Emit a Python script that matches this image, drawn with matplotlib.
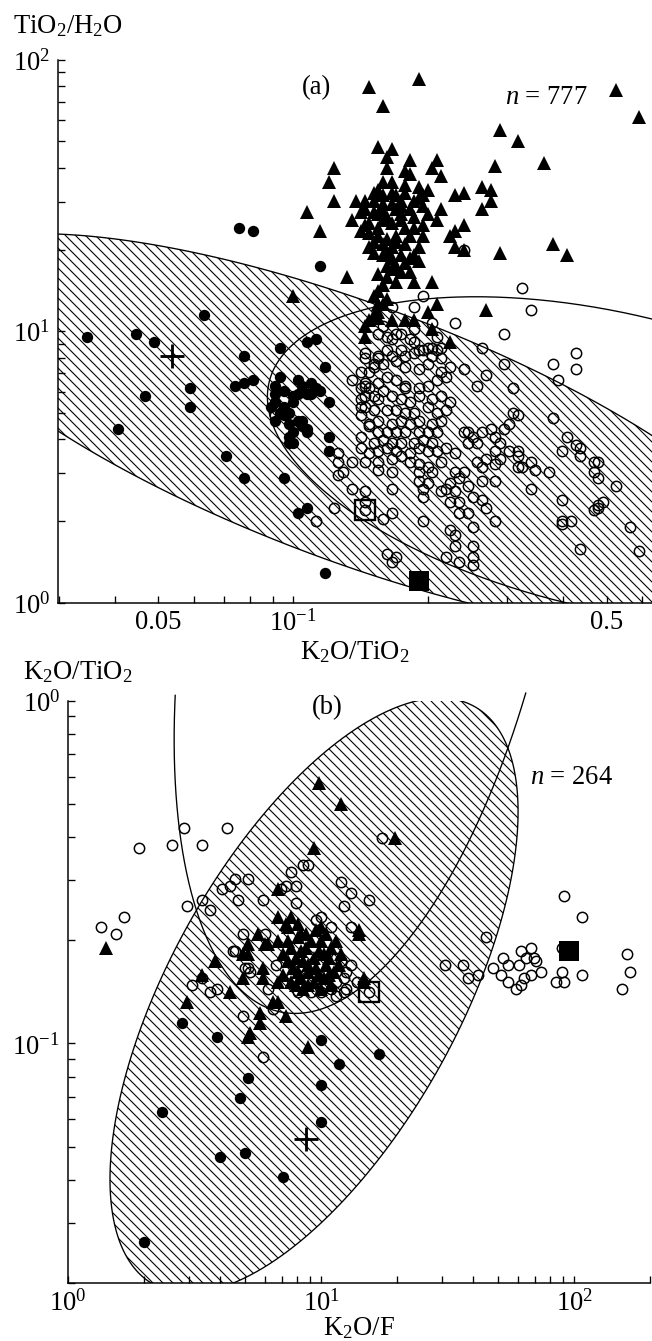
#!/usr/bin/env python3
"""Two log-log panels: TiO2/H2O vs K2O/TiO2 (a) and K2O/TiO2 vs K2O/F (b)."""
import numpy as np
import matplotlib
matplotlib.use("Agg")
import matplotlib.pyplot as plt
from matplotlib import ticker

# every value below is log10 of the ratio

# panel (a): (log K2O/TiO2, log TiO2/H2O)
A_TRI = [
    (-0.83, 1.90), (-0.72, 1.93), (-0.80, 1.83), (-0.28, 1.89), (-0.23, 1.79), (-0.54, 1.74),
    (-0.50, 1.70), (-0.44, 1.62), (-0.55, 1.61), (-0.81, 1.68), (-0.78, 1.67), (-0.91, 1.60),
    (-0.92, 1.55), (-0.74, 1.63), (-0.68, 1.63), (-0.67, 1.57), (-0.97, 1.44), (-0.91, 1.48),
    (-0.94, 1.37), (-0.88, 1.20), (-0.58, 1.53), (-0.56, 1.52), (-0.56, 1.48), (-0.58, 1.45),
    (-0.64, 1.50), (-0.62, 1.51), (-0.62, 1.39), (-0.64, 1.37), (-0.64, 1.31), (-0.54, 1.29),
    (-0.42, 1.32), (-0.39, 1.28), (-0.57, 1.08), (-0.69, 1.18), (-0.73, 1.18), (-0.68, 1.10),
    (-0.70, 1.07), (-0.79, 1.64), (-0.79, 1.60), (-0.75, 1.59), (-0.74, 1.58), (-0.80, 1.55),
    (-0.78, 1.55), (-0.75, 1.54), (-0.69, 1.60), (-0.70, 1.52), (-0.67, 1.45), (-0.70, 1.43),
    (-0.68, 1.41), (-0.71, 1.39), (-0.73, 1.38), (-0.71, 1.35), (-0.72, 1.31), (-0.73, 1.28),
    (-0.75, 1.32), (-0.75, 1.38), (-0.74, 1.22), (-0.76, 1.22), (-0.77, 1.24), (-0.79, 1.24),
    (-0.81, 1.21), (-0.80, 1.17), (-0.81, 1.15), (-0.82, 1.13), (-0.78, 1.31), (-0.79, 1.34),
    (-0.81, 1.35), (-0.83, 1.36), (-0.83, 1.31), (-0.82, 1.29), (-0.80, 1.28), (-0.78, 1.27),
    (-0.83, 1.40), (-0.84, 1.45), (-0.84, 1.48), (-0.82, 1.48), (-0.80, 1.47), (-0.78, 1.47),
    (-0.76, 1.48), (-0.75, 1.51), (-0.72, 1.49), (-0.71, 1.46), (-0.74, 1.45), (-0.77, 1.45),
    (-0.79, 1.42), (-0.81, 1.43), (-0.81, 1.38), (-0.78, 1.40), (-0.78, 1.51), (-0.81, 1.52),
    (-0.82, 1.51), (-0.72, 1.53), (-0.71, 1.50), (-0.81, 1.10), (-0.79, 1.12), (-0.86, 1.48),
    (-0.85, 1.44), (-0.87, 1.41), (-0.85, 1.37), (-0.78, 1.23), (-1.00, 1.13), (-0.80, 1.10),
    (-0.81, 1.07), (-0.83, 1.04), (-0.84, 1.02), (-0.84, 0.98), (-0.78, 1.04), (-0.75, 1.04),
    (-0.73, 1.04), (-0.69, 1.01), (-0.65, 0.96), (-0.81, 1.05), (-0.82, 1.06), (-0.65, 1.35),
    (-0.62, 1.30), (-0.82, 1.44), (-0.80, 1.41), (-0.76, 1.41), (-0.74, 1.35), (-0.77, 1.35),
    (-0.79, 1.29), (-0.76, 1.28), (-0.74, 1.27), (-0.77, 1.33), (-0.80, 1.32), (-0.82, 1.33),
    (-0.84, 1.39), (-0.80, 1.44), (-0.76, 1.43), (-0.73, 1.42), (-0.76, 1.46), (-0.73, 1.48),
    (-0.77, 1.50), (-0.80, 1.50), (-0.79, 1.20), (-0.77, 1.18), (-0.75, 1.25), (-0.72, 1.26),
]
A_RING = [
    (-0.47, 1.08), (-0.64, 1.03), (-0.53, 0.99), (-0.37, 0.92), (-0.37, 0.86), (-0.42, 0.88),
    (-0.41, 0.82), (-0.58, 0.94), (-0.53, 0.88), (-0.62, 0.86), (-0.57, 0.84), (-0.59, 0.80),
    (-0.51, 0.79), (-0.87, 0.82), (-0.84, 0.92), (-0.81, 0.90), (-0.78, 0.97), (-0.77, 0.99),
    (-0.74, 0.97), (-0.73, 1.01), (-0.68, 0.98), (-0.67, 0.94), (-0.69, 0.91), (-0.69, 0.94),
    (-0.71, 0.93), (-0.73, 0.92), (-0.75, 0.91), (-0.76, 0.93), (-0.78, 0.91), (-0.79, 0.93),
    (-0.81, 0.91), (-0.82, 0.88), (-0.83, 0.85), (-0.84, 0.81), (-0.85, 0.79), (-0.85, 0.75),
    (-0.84, 0.72), (-0.85, 0.69), (-0.83, 0.65), (-0.85, 0.61), (-0.85, 0.57), (-0.83, 0.55),
    (-0.81, 0.56), (-0.79, 0.57), (-0.77, 0.56), (-0.74, 0.55), (-0.72, 0.57), (-0.70, 0.56),
    (-0.68, 0.56), (-0.66, 0.57), (-0.64, 0.55), (-0.62, 0.63), (-0.60, 0.61), (-0.58, 0.63),
    (-0.56, 0.64), (-0.55, 0.61), (-0.53, 0.64), (-0.52, 0.66), (-0.51, 0.70), (-0.50, 0.69),
    (-0.54, 0.59), (-0.55, 0.56), (-0.52, 0.56), (-0.50, 0.56), (-0.54, 0.53), (-0.55, 0.51),
    (-0.50, 0.50), (-0.49, 0.50), (-0.59, 0.52), (-0.59, 0.59), (-0.61, 0.59), (-0.67, 0.52),
    (-0.64, 0.48), (-0.63, 0.46), (-0.65, 0.44), (-0.66, 0.42), (-0.67, 0.41), (-0.64, 0.41),
    (-0.63, 0.37), (-0.61, 0.43), (-0.58, 0.45), (-0.60, 0.39), (-0.69, 0.48), (-0.70, 0.50),
    (-0.72, 0.51), (-0.72, 0.48), (-0.72, 0.45), (-0.70, 0.44), (-0.71, 0.42), (-0.71, 0.39),
    (-0.74, 0.52), (-0.76, 0.54), (-0.78, 0.53), (-0.81, 0.52), (-0.84, 0.52), (-0.87, 0.52),
    (-0.90, 0.55), (-0.90, 0.52), (-0.89, 0.48), (-0.90, 0.47), (-0.87, 0.42), (-0.84, 0.41),
    (-0.78, 0.42), (-0.78, 0.48), (-0.81, 0.49), (-0.84, 0.37), (-0.80, 0.31), (-0.78, 0.33),
    (-0.79, 0.18), (-0.77, 0.17), (-0.78, 0.15), (-0.71, 0.30), (-0.65, 0.27), (-0.63, 0.33),
    (-0.61, 0.33), (-0.60, 0.28), (-0.64, 0.25), (-0.60, 0.21), (-0.64, 0.21), (-0.63, 0.15),
    (-0.60, 0.17), (-0.66, 0.17), (-0.60, 0.14), (-0.65, 0.37), (-0.62, 0.48), (-0.58, 0.50),
    (-0.57, 0.53), (-0.55, 0.45), (-0.58, 0.38), (-0.57, 0.35), (-0.55, 0.30), (-0.47, 0.42),
    (-0.50, 0.54), (-0.47, 0.52), (-0.46, 0.49), (-0.43, 0.48), (-0.40, 0.38), (-0.36, 0.57),
    (-0.36, 0.54), (-0.39, 0.61), (-0.40, 0.56), (-0.42, 0.68), (-0.37, 0.58), (-0.33, 0.52),
    (-0.32, 0.52), (-0.33, 0.48), (-0.32, 0.46), (-0.28, 0.43), (-0.32, 0.36), (-0.32, 0.35),
    (-0.33, 0.34), (-0.31, 0.37), (-0.40, 0.30), (-0.40, 0.29), (-0.38, 0.30), (-0.25, 0.28),
    (-0.23, 0.19), (-0.36, 0.20), (-0.95, 0.30), (-0.91, 0.35), (-1.04, 0.69), (-0.49, 1.16),
    (-0.73, 1.09), (-0.71, 1.13), (-0.69, 1.03), (-0.78, 1.09), (-0.80, 1.02), (-0.62, 1.30),
    (-0.84, 0.90), (-0.82, 0.87), (-0.80, 0.88), (-0.77, 0.89), (-0.75, 0.87), (-0.72, 0.86),
    (-0.70, 0.88), (-0.67, 0.90), (-0.65, 0.87), (-0.66, 0.83), (-0.68, 0.82), (-0.70, 0.80),
    (-0.72, 0.79), (-0.75, 0.80), (-0.77, 0.82), (-0.79, 0.83), (-0.81, 0.81), (-0.83, 0.79),
    (-0.82, 0.76), (-0.81, 0.75), (-0.78, 0.76), (-0.76, 0.75), (-0.74, 0.74), (-0.72, 0.76),
    (-0.69, 0.75), (-0.67, 0.76), (-0.65, 0.74), (-0.66, 0.71), (-0.68, 0.70), (-0.70, 0.72),
    (-0.73, 0.70), (-0.75, 0.70), (-0.77, 0.71), (-0.79, 0.71), (-0.82, 0.71), (-0.83, 0.66),
    (-0.81, 0.67), (-0.78, 0.66), (-0.76, 0.67), (-0.74, 0.66), (-0.72, 0.67), (-0.69, 0.66),
    (-0.67, 0.67), (-0.81, 0.63), (-0.79, 0.63), (-0.77, 0.63), (-0.75, 0.63), (-0.72, 0.63),
    (-0.70, 0.63), (-0.68, 0.63), (-0.82, 0.59), (-0.80, 0.60), (-0.78, 0.59), (-0.76, 0.59),
    (-0.73, 0.59), (-0.71, 0.60), (-0.69, 0.59), (-0.61, 0.63), (-0.85, 0.85), (-0.84, 0.80),
    (-0.84, 0.76), (-0.85, 0.72), (-0.80, 0.78), (-0.75, 0.79), (-0.70, 0.94), (-0.68, 0.93),
    (-0.72, 0.93), (-0.67, 0.85), (-0.79, 0.98), (-0.76, 0.99), (-0.73, 0.96), (-0.81, 0.99),
    (-0.84, 0.34),
]
A_DOT = [
    (-1.12, 1.38), (-1.09, 1.37), (-0.94, 1.24), (-1.20, 1.06), (-1.46, 0.98), (-1.35, 0.99),
    (-1.31, 0.96), (-1.11, 0.91), (-1.23, 0.79), (-1.33, 0.76), (-1.23, 0.72), (-1.39, 0.64),
    (-1.13, 0.80), (-1.11, 0.81), (-1.09, 0.82), (-1.15, 0.54), (-1.11, 0.46), (-1.02, 0.46),
    (-0.99, 0.33), (-0.97, 0.35), (-0.93, 0.11), (-1.03, 0.94), (-0.97, 0.96), (-0.95, 0.97),
    (-0.93, 0.87), (-1.03, 0.83), (-1.04, 0.80), (-1.04, 0.77), (-1.02, 0.78), (-0.99, 0.82),
    (-0.98, 0.80), (-0.96, 0.81), (-0.95, 0.79), (-0.96, 0.77), (-0.97, 0.77), (-0.99, 0.77),
    (-1.00, 0.76), (-1.04, 0.74), (-1.03, 0.70), (-1.04, 0.67), (-1.02, 0.69), (-1.01, 0.70),
    (-1.01, 0.66), (-0.99, 0.67), (-0.98, 0.65), (-1.00, 0.63), (-1.01, 0.61), (-1.01, 0.59),
    (-1.00, 0.59), (-0.97, 0.64), (-0.92, 0.74), (-0.92, 0.56), (-0.92, 0.61), (-1.00, 0.74),
    (-1.05, 0.72), (-1.02, 0.72), (-0.94, 0.78), (-0.97, 0.63), (-0.98, 0.67),
]
A_PLUS = [(-1.27, 0.91)]
A_OPEN_SQ = [(-0.84, 0.34)]
A_FILL_SQ = [(-0.72, 0.08)]
A_N = 777

# outlined fields: centre and two conjugate half-axes (log10 units)
A_FIELD = [(-0.862, 0.624), (0.960, -0.538), (0.0, -0.501)]
A_CURVE = [(-0.297, 0.523), (0.757, -0.288), (-0.074, -0.531)]

# panel (b): (log K2O/F, log K2O/TiO2)
B_TRI = [
    (0.15, -0.72), (0.99, -0.24), (0.97, -0.43), (0.58, -0.76), (0.53, -0.80), (0.64, -0.85),
    (0.71, -0.74), (0.75, -0.68), (0.79, -0.71), (0.83, -0.63), (0.86, -0.65), (0.92, -0.68),
    (1.00, -0.66), (0.83, -0.55), (1.08, -0.30), (1.29, -0.40), (1.15, -0.68), (0.88, -0.63),
    (0.87, -0.66), (0.91, -0.65), (0.71, -0.71), (0.69, -0.74), (0.78, -0.71), (0.83, -0.70),
    (0.87, -0.70), (0.91, -0.69), (0.88, -0.72), (0.85, -0.74), (0.92, -0.73), (0.96, -0.70),
    (0.98, -0.67), (1.00, -0.70), (1.04, -0.72), (1.06, -0.70), (1.01, -0.74), (0.97, -0.75),
    (0.93, -0.76), (0.89, -0.78), (0.85, -0.80), (0.83, -0.82), (0.88, -0.82), (0.92, -0.81),
    (0.95, -0.79), (0.98, -0.78), (1.02, -0.77), (1.05, -0.79), (1.01, -0.81), (0.97, -0.82),
    (0.93, -0.84), (1.00, -0.84), (1.04, -0.83), (1.08, -0.74), (1.17, -0.81), (1.17, -0.82),
    (0.69, -0.81), (0.77, -0.78), (0.77, -0.81), (0.47, -0.88), (0.81, -0.88), (0.83, -0.88),
    (0.76, -0.91), (0.86, -0.92), (0.76, -0.94), (0.72, -0.97), (1.15, -0.67), (0.71, -0.98),
    (0.95, -1.01), (0.90, -0.75), (0.94, -0.72), (0.99, -0.73), (1.03, -0.75), (0.95, -0.77),
    (0.91, -0.79), (0.99, -0.80), (1.03, -0.80), (0.95, -0.83), (0.87, -0.76), (0.94, -0.68),
    (1.02, -0.68), (0.90, -0.83), (1.07, -0.77),
]
B_RING = [
    (0.28, -0.43), (0.41, -0.42), (0.46, -0.37), (0.53, -0.42), (0.63, -0.37), (0.13, -0.66),
    (0.19, -0.68), (0.22, -0.63), (0.47, -0.60), (0.53, -0.58), (0.56, -0.61), (0.61, -0.55),
    (0.64, -0.54), (0.66, -0.52), (0.71, -0.52), (0.67, -0.58), (0.77, -0.58), (0.84, -0.55),
    (0.86, -0.54), (0.90, -0.54), (0.88, -0.50), (0.93, -0.48), (0.95, -0.48), (0.90, -0.59),
    (0.98, -0.64), (0.69, -0.68), (0.78, -0.68), (0.65, -0.73), (0.71, -0.78), (0.72, -0.79),
    (0.49, -0.83), (0.56, -0.85), (0.59, -0.84), (0.79, -0.84), (0.82, -0.77), (1.08, -0.53),
    (1.12, -0.56), (1.19, -0.58), (1.09, -0.60), (1.00, -0.63), (1.04, -0.66), (1.12, -0.66),
    (0.66, -0.73), (0.70, -0.78), (0.53, -0.81), (0.69, -0.92), (0.88, -0.81), (1.06, -0.75),
    (1.08, -0.76), (1.10, -0.79), (1.12, -0.77), (1.09, -0.81), (1.06, -0.82), (1.14, -0.82),
    (1.10, -0.84), (1.04, -0.84), (1.06, -0.86), (1.09, -0.85), (0.96, -0.85), (1.00, -0.85),
    (0.91, -0.85), (0.81, -0.90), (1.24, -0.40), (1.49, -0.77), (1.56, -0.77), (1.58, -0.81),
    (1.62, -0.80), (1.65, -0.69), (1.68, -0.78), (1.71, -0.80), (1.72, -0.75), (1.74, -0.77),
    (1.74, -0.82), (1.77, -0.84), (1.78, -0.77), (1.79, -0.73), (1.81, -0.75), (1.83, -0.72),
    (1.84, -0.75), (1.85, -0.76), (1.87, -0.79), (1.83, -0.80), (1.80, -0.81), (1.79, -0.83),
    (1.96, -0.57), (2.03, -0.63), (1.95, -0.79), (1.93, -0.82), (1.96, -0.82), (2.03, -0.80),
    (2.21, -0.74), (2.22, -0.79), (2.19, -0.84), (1.95, -0.72), (0.77, -1.04), (1.19, -0.85),
]
B_DOT = [
    (0.45, -0.94), (0.59, -0.98), (1.00, -0.99), (0.71, -1.10), (0.68, -1.16), (1.00, -1.12),
    (0.37, -1.20), (1.00, -1.23), (0.60, -1.33), (0.70, -1.32), (0.85, -1.39), (0.30, -1.58),
    (1.07, -1.06), (1.23, -1.03),
]
B_PLUS = [(0.94, -1.28)]
B_OPEN_SQ = [(1.19, -0.85)]
B_FILL_SQ = [(1.98, -0.73)]
B_N = 264

B_FIELD = [(0.972, -0.860), (0.498, 0.868), (0.634, 0.0)]
B_CURVE = [(1.2055, 0.4035), (0.7233, 0.0), (-0.3083, -1.3158)]
B_CURVE_TOP = 0.026   # the open curve stops just above the frame


def ellipse(par, n=600):
    (cx, cy), (ux, uy), (vx, vy) = par
    t = np.linspace(0, 2 * np.pi, n)
    return cx + ux * np.cos(t) + vx * np.sin(t), cy + uy * np.cos(t) + vy * np.sin(t)


def pts(ax, data, **kw):
    lx, ly = np.array(data).T
    ax.plot(10 ** lx, 10 ** ly, ls="none", **kw)


RING = dict(marker="o", ms=6.2, mfc="none", mec="k", mew=0.9, zorder=3)
DOT = dict(marker="o", ms=6.8, mfc="k", mec="k", mew=0, zorder=4)
TRI = dict(marker="^", ms=8.4, mfc="k", mec="k", mew=0, zorder=5)
PLUS = dict(marker="+", ms=14, mec="k", mew=1.7, zorder=6)
OSQ = dict(marker="s", ms=12, mfc="none", mec="k", mew=1.4, zorder=6)
FSQ = dict(marker="s", ms=12.5, mfc="k", mec="k", mew=0, zorder=6)


def style(ax):
    ax.set_xscale("log")
    ax.set_yscale("log")
    ax.spines[["top", "right"]].set_visible(False)
    for axis in (ax.xaxis, ax.yaxis):
        axis.set_minor_locator(ticker.LogLocator(base=10, subs=np.arange(2, 10), numticks=30))
        axis.set_minor_formatter(ticker.NullFormatter())
    ax.tick_params(which="both", direction="in", length=4.2, width=0.8)
    ax.tick_params(axis="x", pad=4)
    ax.tick_params(axis="y", pad=4.8)


def panel(ax, tri, ring, dot, plus, osq, fsq, field, curve, curve_top=None):
    fx, fy = ellipse(field)
    ax.fill(10 ** fx, 10 ** fy, facecolor="none", edgecolor="k", hatch="\\\\\\\\",
            lw=0.8, zorder=1)
    cx, cy = ellipse(curve)
    if curve_top is None:
        ax.plot(10 ** cx, 10 ** cy, color="k", lw=0.8, zorder=2)
    else:
        keep = cy <= curve_top
        # roll so the kept arc is contiguous
        start = np.argmax(~keep) if keep[0] else 0
        cx, cy, keep = np.roll(cx, -start), np.roll(cy, -start), np.roll(keep, -start)
        ax.plot(10 ** cx[keep], 10 ** cy[keep], color="k", lw=0.8, zorder=2, clip_on=False)
    pts(ax, ring, **RING)
    pts(ax, dot, **DOT)
    pts(ax, tri, **TRI)
    pts(ax, osq, **OSQ)
    pts(ax, fsq, **FSQ)
    pts(ax, plus, **PLUS)


def main():
    plt.rcParams.update({
        "font.family": "Liberation Serif",
        "font.size": 16,
        "mathtext.fontset": "custom",
        "mathtext.rm": "Liberation Serif",
        "mathtext.it": "Liberation Serif:italic",
        "mathtext.bf": "Liberation Serif:bold",
        "mathtext.default": "regular",
        "hatch.linewidth": 0.65,
        "hatch.color": "k",
        "axes.linewidth": 0.9,
    })
    dpi = 120
    fig = plt.figure(figsize=(652.4 / dpi, 1341.4 / dpi), dpi=dpi)

    # (a)
    ax = fig.add_axes([0.0890, 0.5503, 0.9110, 0.4049])
    panel(ax, A_TRI, A_RING, A_DOT, A_PLUS, A_OPEN_SQ, A_FILL_SQ, A_FIELD, A_CURVE)
    style(ax)
    ax.set_xlim(0.0299, 0.632)
    ax.set_ylim(1, 100)
    ax.set_xticks([0.05, 0.1, 0.5], ["0.05", r"$10^{-1}$", "0.5"])
    ax.set_xlabel(r"K$_2$O/TiO$_2$", va="top")
    ax.xaxis.set_label_coords(0.5, -0.066)
    ax.set_ylabel(r"TiO$_2$/H$_2$O", rotation=0, ha="left", va="center")
    ax.yaxis.set_label_coords(-0.0758, 1.0626)
    ax.text(0.434, 0.950, "(a)", transform=ax.transAxes, ha="center", va="center")
    ax.text(0.8215, 0.932, rf"$\mathit{{n}}$ = {A_N}", transform=ax.transAxes,
            ha="center", va="center")

    # (b)
    ax = fig.add_axes([0.1043, 0.04325, 0.8926, 0.4340])
    panel(ax, B_TRI, B_RING, B_DOT, B_PLUS, B_OPEN_SQ, B_FILL_SQ, B_FIELD, B_CURVE,
          curve_top=B_CURVE_TOP)
    style(ax)
    ax.set_xlim(1, 200)
    ax.set_ylim(0.02, 1)
    ax.set_xlabel(r"K$_2$O/F", va="top")
    ax.xaxis.set_label_coords(0.5, -0.055)
    ax.set_ylabel(r"K$_2$O/TiO$_2$", rotation=0, ha="left", va="center")
    ax.yaxis.set_label_coords(-0.0773, 1.0498)
    ax.text(0.445, 0.9897, "(b)", transform=ax.transAxes, ha="center", va="center")
    ax.text(0.864, 0.869, rf"$\mathit{{n}}$ = {B_N}", transform=ax.transAxes,
            ha="center", va="center")

    fig.savefig("out.png", dpi=dpi)
    return 0


if __name__ == "__main__":
    main()
